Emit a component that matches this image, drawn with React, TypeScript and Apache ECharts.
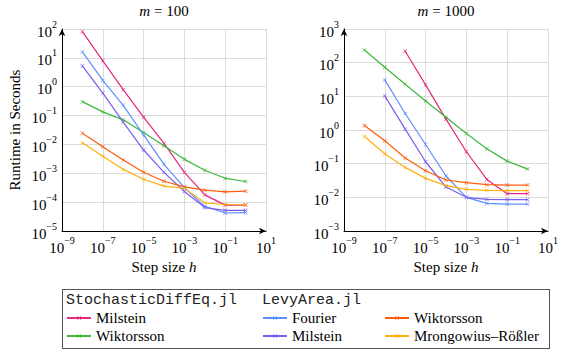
import React, { useEffect, useRef } from 'react';
import * as echarts from 'echarts';

const stepSizes = [1e-8, 1e-7, 1e-6, 1e-5, 1e-4, 1e-3, 1e-2, 1e-1, 1e0];

// m = 100
const sdeMilstein100 = [81, 7.9, 0.79, 0.088, 0.0108, 0.00108, 1.79e-4, 7.9e-5, 7.9e-5];
const sdeWiktorsson100 = [0.304, 0.134, 0.071, 0.026, 0.009, 0.00304, 0.00127, 6.7e-4, 5.2e-4];
const levyFourier100 = [16.1, 1.65, 0.227, 0.0215, 0.00204, 3.2e-4, 7.1e-5, 4.2e-5, 4.3e-5];
const levyMilstein100 = [5.3, 0.6, 0.059, 0.0064, 0.00108, 2.33e-4, 6.5e-5, 5.2e-5, 5.2e-5];
const levyWiktorsson100 = [0.0246, 0.0083, 0.0029, 0.00108, 5.3e-4, 3.4e-4, 2.6e-4, 2.27e-4, 2.4e-4];
const levyMR100 = [0.0114, 0.00386, 0.00137, 6.2e-4, 3.6e-4, 3.0e-4, 9.5e-5, 8.3e-5, 8.1e-5];

// m = 1000
const sdeMilstein1000 = [null, null, 218, 21.9, 2.1, 0.226, 0.034, 0.0128, 0.0128];
const sdeWiktorsson1000 = [239, 73, 22.9, 7.3, 2.4, 0.79, 0.277, 0.119, 0.069];
const levyFourier1000 = [null, 30.8, 3.09, 0.372, 0.043, 0.01, 0.0066, 0.0063, 0.0063];
const levyMilstein1000 = [null, 10.3, 1.06, 0.114, 0.0202, 0.01, 0.0087, 0.0086, 0.0086];
const levyWiktorsson1000 = [1.36, 0.479, 0.147, 0.0618, 0.0327, 0.0272, 0.0237, 0.0232, 0.0232];
const levyMR1000 = [0.643, 0.197, 0.0775, 0.0366, 0.0222, 0.0173, 0.0161, 0.0158, 0.0158];

const panelTitles = ['100', '1000'];
const legendHeaders = ['StochasticDiffEq.jl', 'LevyArea.jl'];

const SERIF = 'Liberation Serif';
const XMARK = 'path://M0,1 L1,0 L5,4 L9,0 L10,1 L6,5 L10,9 L9,10 L5,6 L1,10 L0,9 L4,5 Z';

const defs = [
  { id: 'Milstein (SDE)', label: 'Milstein', color: '#e5287d', d: [sdeMilstein100, sdeMilstein1000] },
  { id: 'Wiktorsson (SDE)', label: 'Wiktorsson', color: '#3db83d', d: [sdeWiktorsson100, sdeWiktorsson1000] },
  { id: 'Fourier', label: 'Fourier', color: '#5e8fff', d: [levyFourier100, levyFourier1000] },
  { id: 'Milstein (Levy)', label: 'Milstein', color: '#7b5df0', d: [levyMilstein100, levyMilstein1000] },
  { id: 'Wiktorsson (Levy)', label: 'Wiktorsson', color: '#ff5c0a', d: [levyWiktorsson100, levyWiktorsson1000] },
  { id: 'Mrongowius–Rößler', label: 'Mrongowius–Rößler', color: '#ffb00f', d: [levyMR100, levyMR1000] },
];

const powLabel = (v: number) => {
  const e = Math.round(Math.log10(v));
  const s = e < 0 ? '−' + -e : String(e);
  return `{b|10}{s|${s}}`;
};
const powRich = {
  b: { fontFamily: SERIF, fontSize: 15, lineHeight: 20, verticalAlign: 'bottom', color: '#000' },
  s: { fontFamily: SERIF, fontSize: 10, lineHeight: 10, verticalAlign: 'top', color: '#000' },
};

const LEGEND_TOP = 289;

export default function App() {
  const plotRef = useRef<HTMLDivElement>(null);
  const legRef = useRef<HTMLDivElement>(null);
  useEffect(() => {
    if (!plotRef.current || !legRef.current) return;
    const chart = echarts.init(plotRef.current, null, { renderer: 'svg' });
    const legChart = echarts.init(legRef.current, null, { renderer: 'svg' });
    const series: any[] = [];
    [0, 1].forEach((p) => {
      defs.forEach((df) => {
        series.push({
          type: 'line',
          name: df.id,
          xAxisIndex: p,
          yAxisIndex: p,
          data: stepSizes.map((x, i) => [x, df.d[p][i]]).filter((q) => q[1] != null),
          symbol: XMARK,
          symbolSize: 4,
          lineStyle: { color: df.color, width: 1.2 },
          itemStyle: { color: df.color },
          emphasis: { disabled: true },
        });
      });
    });
    chart.setOption({
      animation: false,
      grid: [
        { left: 62, top: 29, width: 204, height: 202 },
        { left: 344, top: 29, width: 204, height: 202 },
      ],
      xAxis: [0, 1].map((i) => ({
        type: 'log',
        gridIndex: i,
        min: 1e-9,
        max: 10,
        interval: 2,
        axisLine: { onZero: false, lineStyle: { color: '#000', width: 1 }, symbol: ['none', 'arrow'], symbolSize: [5, 7] },
        axisTick: { show: false },
        axisLabel: { formatter: powLabel, rich: powRich, margin: 4, fontFamily: SERIF },
        splitLine: { show: true, lineStyle: { color: '#dcdcdc', width: 1 } },
        name: 'Step size {i|h}',
        nameLocation: 'middle',
        nameGap: 27,
        nameTextStyle: {
          fontFamily: SERIF,
          fontSize: 15,
          color: '#000',
          rich: { i: { fontFamily: SERIF, fontSize: 15, fontStyle: 'italic', color: '#000' } },
        },
      })),
      yAxis: [0, 1].map((i) => ({
        type: 'log',
        gridIndex: i,
        min: [1e-5, 1e-3][i],
        max: [1e2, 1e3][i],
        interval: 1,
        axisLine: { show: true, onZero: false, lineStyle: { color: '#000', width: 1 }, symbol: ['none', 'arrow'], symbolSize: [5, 7] },
        axisTick: { show: false },
        axisLabel: { formatter: powLabel, rich: powRich, margin: 5, fontFamily: SERIF },
        splitLine: { show: true, lineStyle: { color: '#dcdcdc', width: 1 } },
        name: i === 0 ? 'Runtime in Seconds' : '',
        nameLocation: 'middle',
        nameGap: 40,
        nameTextStyle: { fontFamily: SERIF, fontSize: 15, color: '#000' },
      })),
      graphic: panelTitles.map((t, i) => ({
        type: 'text',
        x: i === 0 ? 164 : 446,
        y: 11,
        style: {
          text: `{i|m} = ${t}`,
          textAlign: 'center',
          textVerticalAlign: 'middle',
          fontFamily: SERIF,
          fontSize: 15,
          rich: { i: { fontFamily: SERIF, fontSize: 15, fontStyle: 'italic' } },
        },
      })),
      series,
    });

    // legend-only chart placed over the bottom band
    const legendCommon = {
      orient: 'vertical',
      top: 310 - LEGEND_TOP,
      itemWidth: 24,
      itemHeight: 5,
      itemGap: 2,
      padding: 0,
      selectedMode: false,
      textStyle: { fontFamily: SERIF, fontSize: 15, color: '#000', lineHeight: 16 },
      formatter: (n: string) => defs.find((d) => d.id === n)!.label,
    };
    legChart.setOption({
      animation: false,
      grid: { left: 0, top: 0, width: 1, height: 1, show: false },
      xAxis: { type: 'value', show: false },
      yAxis: { type: 'value', show: false },
      legend: [
        { ...legendCommon, left: 66, data: ['Milstein (SDE)', 'Wiktorsson (SDE)'] },
        { ...legendCommon, left: 262, data: ['Fourier', 'Milstein (Levy)'] },
        { ...legendCommon, left: 384, data: ['Wiktorsson (Levy)', 'Mrongowius–Rößler'] },
      ],
      series: defs.map((df) => ({
        type: 'line',
        name: df.id,
        data: [],
        symbol: XMARK,
        symbolSize: 4,
        lineStyle: { color: df.color, width: 1.2 },
        itemStyle: { color: df.color },
      })),
    });
    return () => {
      chart.dispose();
      legChart.dispose();
    };
  }, []);
  return (
    <div style={{ position: 'absolute', left: 0, top: 0, width: 564, height: 354 }}>
      <div ref={plotRef} style={{ position: 'absolute', left: 0, top: 0, width: 564, height: 286 }} />
      <div ref={legRef} style={{ position: 'absolute', left: 0, top: LEGEND_TOP, width: 564, height: 65 }} />
      <div
        style={{
          position: 'absolute',
          left: 62,
          top: 289,
          width: 488,
          height: 60,
          boxSizing: 'border-box',
          border: '1px solid #555',
          pointerEvents: 'none',
        }}
      />
      {legendHeaders.map((t, i) => (
        <div
          key={t}
          style={{
            position: 'absolute',
            left: i === 0 ? 66 : 262,
            top: 292,
            fontFamily: 'Liberation Mono, monospace',
            fontSize: 15,
            lineHeight: '18px',
            color: '#222',
            whiteSpace: 'nowrap',
          }}
        >
          {t}
        </div>
      ))}
    </div>
  );
}
